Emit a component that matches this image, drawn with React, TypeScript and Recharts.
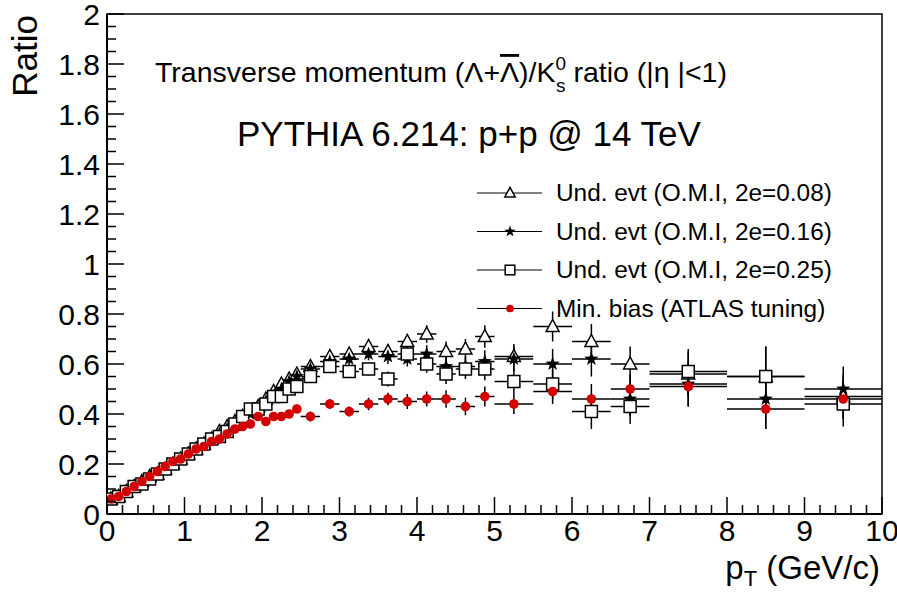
import React from "react";
import { ScatterChart, Scatter, XAxis, YAxis, ErrorBar, ReferenceArea } from "recharts";

// bin centres and half widths (GeV/c)
const pt = [
  0.05, 0.15, 0.25, 0.35, 0.45, 0.55, 0.65, 0.75, 0.85, 0.95,
  1.05, 1.15, 1.25, 1.35, 1.45, 1.55, 1.65, 1.75, 1.85, 1.95,
  2.05, 2.15, 2.25, 2.35, 2.45,
  2.625, 2.875, 3.125, 3.375, 3.625, 3.875, 4.125, 4.375, 4.625, 4.875,
  5.25, 5.75, 6.25, 6.75, 7.5, 8.5, 9.5,
];
const ptHalfWidth = [
  0.05, 0.05, 0.05, 0.05, 0.05, 0.05, 0.05, 0.05, 0.05, 0.05,
  0.05, 0.05, 0.05, 0.05, 0.05, 0.05, 0.05, 0.05, 0.05, 0.05,
  0.05, 0.05, 0.05, 0.05, 0.05,
  0.125, 0.125, 0.125, 0.125, 0.125, 0.125, 0.125, 0.125, 0.125, 0.125,
  0.25, 0.25, 0.25, 0.25, 0.5, 0.5, 0.5,
];

const ratioOmi008 = [
  0.06, 0.07, 0.09, 0.11, 0.13, 0.15, 0.16, 0.18, 0.20, 0.22,
  0.24, 0.26, 0.28, 0.30, 0.33, 0.35, 0.37, 0.39, 0.41, 0.43,
  0.46, 0.49, 0.52, 0.54, 0.56,
  0.59, 0.63, 0.64, 0.67, 0.65, 0.69, 0.72, 0.65, 0.66, 0.71,
  0.63, 0.75, 0.69, 0.60, 0.56, 0.55, 0.47,
];
const ratioOmi016 = [
  0.06, 0.07, 0.09, 0.11, 0.13, 0.15, 0.16, 0.18, 0.20, 0.22,
  0.24, 0.26, 0.28, 0.30, 0.32, 0.34, 0.36, 0.38, 0.40, 0.42,
  0.45, 0.47, 0.50, 0.53, 0.55,
  0.58, 0.61, 0.62, 0.64, 0.63, 0.62, 0.64, 0.59, 0.59, 0.61,
  0.62, 0.60, 0.62, 0.46, 0.52, 0.46, 0.50,
];
const ratioOmi025 = [
  0.06, 0.07, 0.09, 0.11, 0.12, 0.14, 0.16, 0.18, 0.20, 0.22,
  0.24, 0.26, 0.28, 0.30, 0.31, 0.33, 0.36, 0.39, 0.42, 0.42,
  0.44, 0.47, 0.47, 0.50, 0.51,
  0.55, 0.59, 0.57, 0.58, 0.54, 0.64, 0.60, 0.56, 0.58, 0.58,
  0.53, 0.52, 0.41, 0.43, 0.57, 0.55, 0.44,
];
const ratioMinBias = [
  0.06, 0.07, 0.09, 0.11, 0.13, 0.15, 0.17, 0.19, 0.21, 0.22,
  0.24, 0.26, 0.27, 0.29, 0.30, 0.32, 0.34, 0.35, 0.36, 0.39,
  0.37, 0.39, 0.39, 0.40, 0.42,
  0.39, 0.44, 0.41, 0.44, 0.46, 0.45, 0.46, 0.46, 0.43, 0.47,
  0.44, 0.49, 0.46, 0.50, 0.51, 0.42, 0.46,
];
const errUnd = [
  0.004, 0.004, 0.004, 0.004, 0.004, 0.004, 0.004, 0.004, 0.004, 0.004,
  0.008, 0.008, 0.008, 0.008, 0.008, 0.008, 0.008, 0.008, 0.008, 0.008,
  0.01, 0.01, 0.01, 0.01, 0.01,
  0.02, 0.02, 0.025, 0.025, 0.03, 0.03, 0.035, 0.04, 0.04, 0.045,
  0.05, 0.06, 0.07, 0.07, 0.09, 0.12, 0.09,
];
const errMinBias = [
  0.004, 0.004, 0.004, 0.004, 0.004, 0.004, 0.004, 0.004, 0.004, 0.004,
  0.008, 0.008, 0.008, 0.008, 0.008, 0.008, 0.008, 0.008, 0.008, 0.008,
  0.01, 0.01, 0.01, 0.01, 0.01,
  0.02, 0.02, 0.02, 0.025, 0.025, 0.03, 0.03, 0.035, 0.035, 0.04,
  0.04, 0.05, 0.06, 0.06, 0.08, 0.08, 0.08,
];

const xMajorTicks = [0, 1, 2, 3, 4, 5, 6, 7, 8, 9, 10];
const yMajorTicks = [0, 0.2, 0.4, 0.6, 0.8, 1, 1.2, 1.4, 1.6, 1.8, 2];

const xTicks: number[] = [];
for (let i = 0; i <= 50; i++) xTicks.push(Math.round(i * 20) / 100);
const yTicks: number[] = [];
for (let i = 0; i <= 40; i++) yTicks.push(Math.round(i * 5) / 100);

const FONT = "'Liberation Sans', Arial, Helvetica, sans-serif";
const RED = "#d20000";

const build = (vals: number[], errs: number[]) =>
  pt.map((x, i) => ({ x, y: vals[i], ex: ptHalfWidth[i], ey: errs[i] }));

const dataOmi008 = build(ratioOmi008, errUnd);
const dataOmi016 = build(ratioOmi016, errUnd);
const dataOmi025 = build(ratioOmi025, errUnd);
const dataMinBias = build(ratioMinBias, errMinBias);

function triangle(cx: number, cy: number, s = 1) {
  return (
    <polygon
      points={`${cx},${cy - 7 * s} ${cx - 6.5 * s},${cy + 5 * s} ${cx + 6.5 * s},${cy + 5 * s}`}
      fill="#fff"
      stroke="#000"
      strokeWidth={1.5}
    />
  );
}

function star(cx: number, cy: number, s = 1) {
  const pts: string[] = [];
  for (let k = 0; k < 10; k++) {
    const r = (k % 2 === 0 ? 7.5 : 3) * s;
    const a = -Math.PI / 2 + (k * Math.PI) / 5;
    pts.push(`${cx + r * Math.cos(a)},${cy + r * Math.sin(a)}`);
  }
  return <polygon points={pts.join(" ")} fill="#000" />;
}

function square(cx: number, cy: number, s = 1) {
  const h = 6 * s;
  return <rect x={cx - h} y={cy - h} width={2 * h} height={2 * h} fill="#fff" stroke="#000" strokeWidth={1.5} />;
}

function dot(cx: number, cy: number, s = 1) {
  return <circle cx={cx} cy={cy} r={4.8 * s} fill={RED} />;
}

const legendRows = [
  { label: "Und. evt (O.M.I, 2e=0.08)", marker: triangle },
  { label: "Und. evt (O.M.I, 2e=0.16)", marker: star },
  { label: "Und. evt (O.M.I, 2e=0.25)", marker: square },
  { label: "Min. bias (ATLAS tuning)", marker: dot },
];

const XTick = (props: any) => {
  const { x, y, payload } = props;
  const v = payload.value as number;
  const major = xMajorTicks.some((t) => Math.abs(t - v) < 1e-6);
  return (
    <g>
      <line x1={x} y1={y} x2={x} y2={y - (major ? 17 : 9)} stroke="#000" strokeWidth={1.5} />
      {major && (
        <text x={x} y={y + 27} textAnchor="middle" fontSize={30} fontFamily={FONT} fill="#000">
          {v}
        </text>
      )}
    </g>
  );
};

const YTick = (props: any) => {
  const { x, y, payload } = props;
  const v = payload.value as number;
  const major = yMajorTicks.some((t) => Math.abs(t - v) < 1e-6);
  return (
    <g>
      <line x1={x} y1={y} x2={x + (major ? 17 : 9)} y2={y} stroke="#000" strokeWidth={1.5} />
      {major && (
        <text x={x - 7} y={y + 11} textAnchor="end" fontSize={30} fontFamily={FONT} fill="#000">
          {String(Number(v.toFixed(1)))}
        </text>
      )}
    </g>
  );
};

export default function App() {
  return (
    <div style={{ position: "absolute", left: 0, top: 0, width: 897, height: 593, background: "#fff" }}>
      <ScatterChart width={897} height={593} margin={{ top: 14, right: 15, bottom: 78, left: 106 }}>
        <XAxis
          type="number"
          dataKey="x"
          domain={[0, 10]}
          ticks={xTicks}
          interval={0}
          height={1}
          tickSize={0}
          tickMargin={0}
          tickLine={false}
          tick={<XTick />}
          axisLine={{ stroke: "#000", strokeWidth: 2 }}
          allowDataOverflow
        />
        <YAxis
          type="number"
          dataKey="y"
          domain={[0, 2]}
          ticks={yTicks}
          interval={0}
          width={1}
          tickSize={0}
          tickMargin={0}
          tickLine={false}
          tick={<YTick />}
          axisLine={{ stroke: "#000", strokeWidth: 2 }}
          allowDataOverflow
        />
        <ReferenceArea x1={0} x2={10} y1={0} y2={2} fill="none" stroke="#000" strokeWidth={1.5} ifOverflow="visible" />
        <Scatter data={dataOmi008} isAnimationActive={false} shape={(p: any) => triangle(p.cx, p.cy)}>
          <ErrorBar dataKey="ex" direction="x" width={0} stroke="#000" strokeWidth={1.5} />
          <ErrorBar dataKey="ey" direction="y" width={0} stroke="#000" strokeWidth={1.5} />
        </Scatter>
        <Scatter data={dataOmi016} isAnimationActive={false} shape={(p: any) => star(p.cx, p.cy)}>
          <ErrorBar dataKey="ex" direction="x" width={0} stroke="#000" strokeWidth={1.5} />
          <ErrorBar dataKey="ey" direction="y" width={0} stroke="#000" strokeWidth={1.5} />
        </Scatter>
        <Scatter data={dataOmi025} isAnimationActive={false} shape={(p: any) => square(p.cx, p.cy)}>
          <ErrorBar dataKey="ex" direction="x" width={0} stroke="#000" strokeWidth={1.5} />
          <ErrorBar dataKey="ey" direction="y" width={0} stroke="#000" strokeWidth={1.5} />
        </Scatter>
        <Scatter data={dataMinBias} isAnimationActive={false} shape={(p: any) => dot(p.cx, p.cy)}>
          <ErrorBar dataKey="ex" direction="x" width={0} stroke="#000" strokeWidth={1.5} />
          <ErrorBar dataKey="ey" direction="y" width={0} stroke="#000" strokeWidth={1.5} />
        </Scatter>
      </ScatterChart>
      <svg
        width={897}
        height={593}
        style={{ position: "absolute", left: 0, top: 0, pointerEvents: "none" }}
        fontFamily={FONT}
        fill="#000"
      >
        <text x={155} y={82} fontSize={28.5}>
          Transverse momentum (Λ+
          <tspan style={{ textDecoration: "overline" }}>Λ</tspan>
          )/K
          <tspan dy={-12} fontSize={19}>0</tspan>
          <tspan dx={-10} dy={22} fontSize={19}>s</tspan>
          <tspan dy={-10}> ratio (|η |&lt;1)</tspan>
        </text>
        <text x={237} y={146} fontSize={35}>
          PYTHIA 6.214: p+p @ 14 TeV
        </text>
        <text transform="translate(37,15) rotate(-90)" textAnchor="end" fontSize={35}>
          Ratio
        </text>
        <text x={880} y={579} textAnchor="end" fontSize={33}>
          p<tspan dy={7} fontSize={22}>T</tspan>
          <tspan dy={-7}> (GeV/c)</tspan>
        </text>
        {legendRows.map((r, i) => {
          const cy = 193 + i * 38.5;
          return (
            <g key={r.label}>
              <line x1={477} x2={542} y1={cy} y2={cy} stroke="#000" strokeWidth={1} />
              {r.marker(510, cy, 0.8)}
              <text x={556} y={cy + 8} fontSize={24.4}>
                {r.label}
              </text>
            </g>
          );
        })}
      </svg>
    </div>
  );
}
